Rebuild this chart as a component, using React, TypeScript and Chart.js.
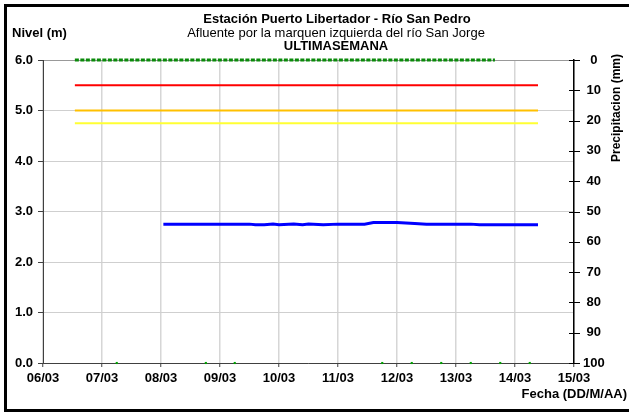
import React, { useEffect, useRef } from "react";
import { Chart, registerables } from "chart.js";

Chart.register(...registerables);

// ---- data ----
const dateLabels = ["06/03", "07/03", "08/03", "09/03", "10/03", "11/03", "12/03", "13/03", "14/03", "15/03"];
const levelTickValues = [0, 1, 2, 3, 4, 5, 6];
const precipTickValues = [0, 10, 20, 30, 40, 50, 60, 70, 80, 90, 100];

// time in days after 06/03 00:00
const thresholdTimes = [0.54, 8.39];
const redLevel = [5.5, 5.5];
const orangeLevel = [5.0, 5.0];
const yellowLevel = [4.75, 4.75];

const rainTimes = [0.54, 7.66];
const rainValues = [0, 0];

const bottomDotTimes = [1.25, 2.76, 3.25, 5.75, 6.25, 6.75, 7.25, 7.75, 8.25];
const bottomDotValues = [0, 0, 0, 0, 0, 0, 0, 0, 0];

const levelTimes = [2.04, 2.25, 2.5, 2.75, 3.0, 3.25, 3.5, 3.6, 3.75, 3.9, 4.0, 4.25, 4.4, 4.5, 4.75, 5.0, 5.25, 5.45, 5.6, 5.75, 6.0, 6.15, 6.3, 6.5, 6.75, 7.0, 7.25, 7.4, 7.75, 8.0, 8.25, 8.39];
const levelValues = [2.75, 2.75, 2.75, 2.75, 2.75, 2.75, 2.75, 2.74, 2.74, 2.75, 2.74, 2.75, 2.74, 2.75, 2.74, 2.75, 2.75, 2.75, 2.78, 2.78, 2.78, 2.77, 2.76, 2.75, 2.75, 2.75, 2.75, 2.74, 2.74, 2.74, 2.74, 2.74];

const FONT = "'Liberation Sans', Arial, sans-serif";

const zip = (xs: number[], ys: number[]) => xs.map((x, i) => ({ x, y: ys[i] }));

const decorPlugin = {
  id: "decor",
  afterDraw(chart: any) {
    const ctx = chart.ctx as CanvasRenderingContext2D;
    const area = chart.chartArea;
    ctx.save();
    // titles
    ctx.fillStyle = "#000";
    ctx.textAlign = "center";
    ctx.textBaseline = "middle";
    ctx.font = `bold 13px ${FONT}`;
    ctx.fillText("Estación Puerto Libertador - Río San Pedro", 337, 19);
    ctx.font = `13px ${FONT}`;
    ctx.fillText("Afluente por la marquen izquierda del río San Jorge", 336, 33);
    ctx.font = `bold 13px ${FONT}`;
    ctx.fillText("ULTIMASEMANA", 336, 46);
    ctx.textAlign = "left";
    ctx.fillText("Nivel (m)", 12, 33);
    ctx.textAlign = "right";
    ctx.fillText("Fecha (DD/M/AA)", 627, 394);
    // right title
    ctx.save();
    ctx.translate(617, 108);
    ctx.rotate(-Math.PI / 2);
    ctx.textAlign = "center";
    ctx.font = `bold 12px ${FONT}`;
    ctx.fillText("Precipitacion (mm)", 0, 0);
    ctx.restore();
    // right axis crossing ticks
    const y2 = chart.scales.y2;
    ctx.strokeStyle = "#000";
    ctx.lineWidth = 1;
    for (const v of precipTickValues) {
      const py = Math.round(y2.getPixelForValue(v)) + 0.5;
      ctx.beginPath();
      ctx.moveTo(area.right - 5, py);
      ctx.lineTo(area.right + 6, py);
      ctx.stroke();
    }
    // frame
    ctx.strokeStyle = "#000";
    ctx.lineWidth = 3;
    ctx.beginPath();
    ctx.moveTo(650, 5.5);
    ctx.lineTo(5.5, 5.5);
    ctx.lineTo(5.5, 410.5);
    ctx.lineTo(650, 410.5);
    ctx.stroke();
    ctx.restore();
  },
};

export default function App() {
  const ref = useRef<HTMLCanvasElement | null>(null);
  useEffect(() => {
    if (!ref.current) return;
    const chart = new Chart(ref.current, {
      type: "line",
      data: {
        datasets: [
          {
            label: "Rojo",
            data: zip(thresholdTimes, redLevel),
            borderColor: "#ff0000",
            borderWidth: 2,
            pointRadius: 0,
            yAxisID: "y",
          },
          {
            label: "Naranja",
            data: zip(thresholdTimes, orangeLevel),
            borderColor: "#ffc000",
            borderWidth: 2,
            pointRadius: 0,
            yAxisID: "y",
          },
          {
            label: "Amarillo",
            data: zip(thresholdTimes, yellowLevel),
            borderColor: "#ffff33",
            borderWidth: 2,
            pointRadius: 0,
            yAxisID: "y",
          },
          {
            label: "Nivel",
            data: zip(levelTimes, levelValues),
            borderColor: "#0000ff",
            borderWidth: 3,
            pointRadius: 0,
            tension: 0,
            yAxisID: "y",
          },
          {
            label: "Precipitación",
            data: zip(rainTimes, rainValues),
            borderColor: "#0a8a0a",
            borderWidth: 3,
            borderDash: [4, 1.5],
            pointRadius: 0,
            clip: false,
            yAxisID: "y2",
          },
          {
            label: "Puntos",
            data: zip(bottomDotTimes, bottomDotValues),
            showLine: false,
            pointStyle: "rect",
            pointRadius: 1.5,
            pointBackgroundColor: "#00a000",
            pointBorderWidth: 0,
            clip: false,
            yAxisID: "y",
          },
        ],
      },
      options: {
        animation: false,
        responsive: true,
        maintainAspectRatio: false,
        layout: { padding: { top: 60, left: 0, right: 0, bottom: 0 } },
        plugins: { legend: { display: false }, tooltip: { enabled: false }, title: { display: false } },
        scales: {
          x: {
            type: "linear",
            min: 0,
            max: 9,
            afterFit: (s: any) => { s.height = 50; },
            afterBuildTicks: (s: any) => { s.ticks = dateLabels.map((_, i) => ({ value: i })); },
            ticks: {
              autoSkip: false,
              maxRotation: 0,
              padding: 4,
              color: "#000",
              font: { family: FONT, size: 13, weight: "bold" },
              callback: (v: any) => dateLabels[Math.round(Number(v))] ?? "",
            },
            grid: { color: "#d6d6d6", lineWidth: 1.5, tickColor: "#404040", tickLength: 4, tickWidth: 1 },
            border: { color: "#404040", width: 1 },
          },
          y: {
            position: "left",
            min: 0,
            max: 6,
            afterFit: (s: any) => { s.width = 43; },
            afterBuildTicks: (s: any) => { s.ticks = levelTickValues.map((v) => ({ value: v })); },
            ticks: {
              padding: 5,
              color: "#000",
              font: { family: FONT, size: 13, weight: "bold" },
              callback: (v: any) => Number(v).toFixed(1),
            },
            grid: {
              color: (c: any) => (c.tick && c.tick.value === 6 ? "#999999" : "#cfcfcf"),
              lineWidth: 1,
              tickColor: "#404040",
              tickLength: 5,
              tickWidth: 1,
            },
            border: { color: "#404040", width: 1 },
          },
          y2: {
            position: "right",
            min: 0,
            max: 100,
            reverse: true,
            afterFit: (s: any) => { s.width = 55; },
            afterBuildTicks: (s: any) => { s.ticks = precipTickValues.map((v) => ({ value: v })); },
            ticks: {
              padding: 9,
              crossAlign: "center",
              color: "#000",
              font: { family: FONT, size: 13, weight: "bold" },
            },
            grid: { display: false, drawTicks: false },
            border: { display: true, color: "#000", width: 1.5 },
          },
        },
      },
      plugins: [decorPlugin],
    } as any);
    return () => chart.destroy();
  }, []);
  return (
    <div style={{ position: "fixed", left: 0, top: 0, width: 629, height: 413, background: "#fff" }}>
      <canvas ref={ref} />
    </div>
  );
}
